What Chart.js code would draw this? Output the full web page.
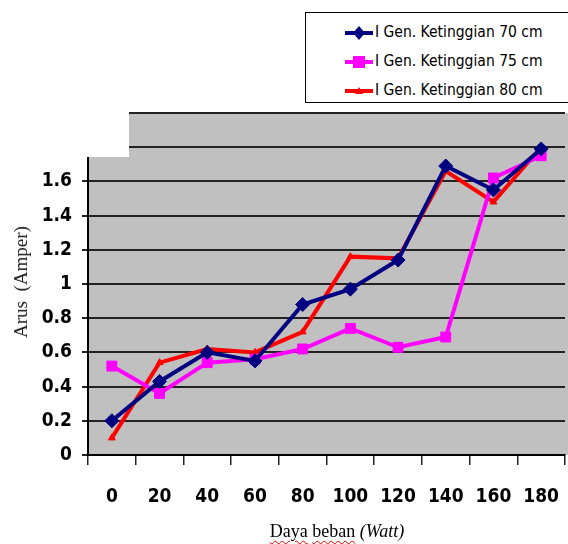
<!DOCTYPE html>
<html><head><meta charset="utf-8">
<script src="https://cdn.jsdelivr.net/npm/chart.js@4/dist/chart.umd.min.js"></script>
<style>
html,body{margin:0;padding:0;background:#fff;overflow:hidden;}
#wrap{position:relative;width:568px;height:544px;}
#c{position:absolute;left:0;top:0;}
#legend{position:absolute;left:305px;top:12px;width:275px;height:91px;border:1px solid #000;background:#fff;box-sizing:border-box;
  font-family:"DejaVu Sans Condensed","DejaVu Sans",sans-serif;font-size:15.5px;color:#000;}
.li{position:absolute;left:38px;height:22px;line-height:22px;white-space:nowrap;}
.li svg{vertical-align:middle;margin-right:1px;}
#ytitle{position:absolute;left:21px;top:282px;transform:translate(-50%,-50%) rotate(-90deg);font-family:"Liberation Serif","DejaVu Serif",serif;font-size:19px;white-space:nowrap;color:#222;}
#xtitle{position:absolute;left:337px;top:531px;transform:translate(-50%,-50%);font-family:"Liberation Serif","DejaVu Serif",serif;font-size:18px;white-space:nowrap;color:#000;}
.sq{text-decoration:underline wavy #e00;text-decoration-thickness:1px;text-underline-offset:3px;}
</style>
</head><body>
<div id="wrap">
<canvas id="c" width="568" height="544"></canvas>
<div id="legend"></div>
<div id="ytitle">Arus&nbsp;&nbsp;(Amper)</div>
<div id="xtitle"><span class="sq">Daya</span> <span class="sq">beban</span> <i>(Watt)</i></div>
</div>
<script>
const categories = ["0","20","40","60","80","100","120","140","160","180"];
const seriesNames = ["I Gen. Ketinggian 70 cm","I Gen. Ketinggian 75 cm","I Gen. Ketinggian 80 cm"];
const gen70 = [0.20,0.43,0.60,0.55,0.88,0.97,1.14,1.69,1.55,1.79];
const gen75 = [0.52,0.36,0.54,0.56,0.62,0.74,0.63,0.69,1.62,1.75];
const gen80 = [0.10,0.54,0.62,0.60,0.72,1.16,1.15,1.66,1.48,1.80];
const yTickLabelsShown = [0,0.2,0.4,0.6,0.8,1,1.2,1.4,1.6];

const colors = ["#000080","#ff00ff","#ff0000"];
const styles = ["rectRot","rect","triangle"];
const radii = [7,7,4];

// HTML legend
const leg = document.getElementById('legend');
seriesNames.forEach((n,i)=>{
  const d = document.createElement('div');
  d.className='li';
  d.style.top = (8 + i*29) + 'px';
  let mk = '';
  if(i===0) mk = '<polygon points="15,3 21,10 15,17 9,10" fill="'+colors[i]+'"/>';
  if(i===1) mk = '<rect x="9" y="4" width="12" height="12" fill="'+colors[i]+'"/>';
  if(i===2) mk = '<polygon points="15,6 19,13 11,13" fill="'+colors[i]+'"/>';
  d.innerHTML = '<svg width="30" height="20"><line x1="1" y1="10" x2="29" y2="10" stroke="'+colors[i]+'" stroke-width="4"/>'+mk+'</svg>'+n;
  leg.appendChild(d);
});

const bgPlugin = {
  id:'bg',
  beforeDraw(chart){
    const {ctx, chartArea:a} = chart;
    ctx.save();
    ctx.fillStyle='#c0c0c0';
    ctx.fillRect(a.left,a.top,a.right-a.left+6,a.bottom-a.top);
    ctx.restore();
  },
  beforeDatasetsDraw(chart){
    const {ctx, chartArea:a} = chart;
    ctx.save();
    ctx.fillStyle='#ffffff';
    ctx.fillRect(a.left-12, a.top-3, 53, 47);
    ctx.restore();
  }
};

const tickFont = {family:'"DejaVu Sans Condensed","DejaVu Sans",sans-serif', size:19, weight:'bold'};

new Chart(document.getElementById('c'), {
  type:'line',
  data:{
    labels: categories,
    datasets: [gen70,gen75,gen80].map((d,i)=>({
      label: seriesNames[i],
      data: d,
      borderColor: colors[i],
      backgroundColor: colors[i],
      borderWidth: 4,
      pointStyle: styles[i],
      pointRadius: radii[i],
      pointHoverRadius: radii[i],
      pointBorderWidth: 1,
      tension: 0,
      fill:false
    }))
  },
  plugins:[bgPlugin],
  options:{
    responsive:false,
    animation:false,
    layout:{autoPadding:false, padding:{left:0,right:3,top:113,bottom:0}},
    plugins:{legend:{display:false},tooltip:{enabled:false}},
    scales:{
      x:{
        type:'category',
        offset:true,
        grid:{offset:true, drawOnChartArea:false, drawTicks:true, tickLength:10, color:'#222', lineWidth:1.5},
        border:{display:true,color:'#000',width:2},
        ticks:{color:'#000', font:tickFont, padding:21, maxRotation:0, autoSkip:false},
        afterFit(s){ s.height = 89; s.paddingLeft = 0; s.paddingRight = 0; }
      },
      y:{
        min:0, max:2.0,
        grid:{color:'#222', lineWidth:2, tickLength:6, drawTicks:true},
        border:{display:true,color:'#000',width:2},
        ticks:{stepSize:0.2, color:'#000', font:tickFont, padding:10,
          callback:(v)=>{ const r=Math.round(v*10)/10; return yTickLabelsShown.includes(r) ? String(r) : ''; }},
        afterFit(s){ s.width = 88; s.paddingTop = 0; s.paddingBottom = 0; }
      }
    }
  }
});
</script>
</body></html>
